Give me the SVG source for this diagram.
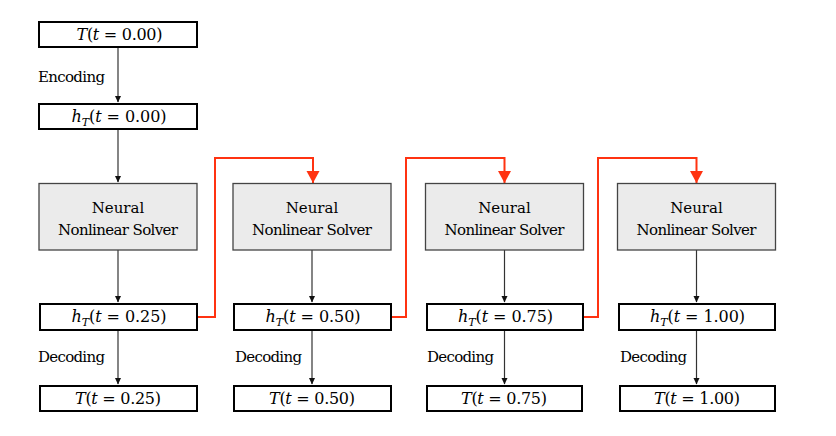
<svg xmlns="http://www.w3.org/2000/svg" width="836" height="436" viewBox="0 0 836 436">
<defs>
<marker id="ab" markerWidth="7" markerHeight="7" refX="6" refY="3.5" orient="auto" markerUnits="userSpaceOnUse">
<path d="M0,0.5 L6.5,3.5 L0,6.5 Z" fill="#111"/>
</marker>
<marker id="ar" markerWidth="14" markerHeight="14" refX="12" refY="6.5" orient="auto" markerUnits="userSpaceOnUse">
<path d="M0,0 L12,6.5 L0,13 Z" fill="#ff3311"/>
</marker>
<style>
.box{fill:#fff;stroke:#000;stroke-width:2}
.solver{fill:#ebebeb;stroke:#444;stroke-width:1.3}
text{font-family:"DejaVu Serif",serif;fill:#000}
.t{font-size:15px}
.m{font-size:16px}
.i{font-style:italic}
.sub{font-size:11px;font-style:italic}
.c{fill:none;stroke:#333;stroke-width:1.2}
.r{fill:none;stroke:#ff3311;stroke-width:2}
</style>
</defs>
<rect width="836" height="436" fill="#fff"/>

<g id="connectors">
<path class="c" d="M118,48 V102" marker-end="url(#ab)"/>
<path class="c" d="M118,130 V182" marker-end="url(#ab)"/>
<path class="c" d="M118,250 V302" marker-end="url(#ab)"/>
<path class="c" d="M118,331 V384" marker-end="url(#ab)"/>
<path class="c" d="M312,250 V302" marker-end="url(#ab)"/>
<path class="c" d="M312,331 V384" marker-end="url(#ab)"/>
<path class="c" d="M504.5,250 V302" marker-end="url(#ab)"/>
<path class="c" d="M504.5,331 V384" marker-end="url(#ab)"/>
<path class="c" d="M696.5,250 V302" marker-end="url(#ab)"/>
<path class="c" d="M696.5,331 V384" marker-end="url(#ab)"/>
<path class="r" d="M197,317 H215 V158 H313 V183" marker-end="url(#ar)"/>
<path class="r" d="M391,317 H406 V158 H504.5 V183" marker-end="url(#ar)"/>
<path class="r" d="M583,317 H598 V158 H696.5 V183" marker-end="url(#ar)"/>
<text class="t" x="38" y="82" textLength="67">Encoding</text>
<text class="t" x="38" y="362" textLength="67">Decoding</text>
<text class="t" x="235" y="362" textLength="67">Decoding</text>
<text class="t" x="427" y="362" textLength="67">Decoding</text>
<text class="t" x="620" y="362" textLength="67">Decoding</text>
</g>

<g id="T0">
<rect class="box" x="39" y="22" width="158" height="25"/>
<text class="m" x="119.5" y="40" text-anchor="middle" textLength="86" lengthAdjust="spacing"><tspan class="i">T</tspan>(<tspan class="i">t</tspan> = 0.00)</text>
</g>
<g id="h0">
<rect class="box" x="39" y="104" width="158" height="25"/>
<text class="m" x="119" y="122" text-anchor="middle" textLength="95" lengthAdjust="spacing"><tspan class="i">h</tspan><tspan class="sub" dy="4">T</tspan><tspan dy="-4">(</tspan><tspan class="i">t</tspan> = 0.00)</text>
</g>

<g id="solver1">
<rect class="solver" x="39" y="183.5" width="158" height="66.5"/>
<text class="t" x="118" y="213" text-anchor="middle">Neural</text>
<text class="t" x="118" y="235" text-anchor="middle" textLength="120">Nonlinear Solver</text>
</g>
<g id="solver2">
<rect class="solver" x="233" y="183.5" width="158" height="66.5"/>
<text class="t" x="312" y="213" text-anchor="middle">Neural</text>
<text class="t" x="312" y="235" text-anchor="middle" textLength="120">Nonlinear Solver</text>
</g>
<g id="solver3">
<rect class="solver" x="425.5" y="183.5" width="158" height="66.5"/>
<text class="t" x="504.5" y="213" text-anchor="middle">Neural</text>
<text class="t" x="504.5" y="235" text-anchor="middle" textLength="120">Nonlinear Solver</text>
</g>
<g id="solver4">
<rect class="solver" x="617.5" y="183.5" width="158" height="66.5"/>
<text class="t" x="696.5" y="213" text-anchor="middle">Neural</text>
<text class="t" x="696.5" y="235" text-anchor="middle" textLength="120">Nonlinear Solver</text>
</g>

<g id="h1">
<rect class="box" x="40" y="304" width="157" height="26"/>
<text class="m" x="119" y="322" text-anchor="middle" textLength="95" lengthAdjust="spacing"><tspan class="i">h</tspan><tspan class="sub" dy="4">T</tspan><tspan dy="-4">(</tspan><tspan class="i">t</tspan> = 0.25)</text>
</g>
<g id="h2">
<rect class="box" x="234" y="304" width="157" height="26"/>
<text class="m" x="313" y="322" text-anchor="middle" textLength="95" lengthAdjust="spacing"><tspan class="i">h</tspan><tspan class="sub" dy="4">T</tspan><tspan dy="-4">(</tspan><tspan class="i">t</tspan> = 0.50)</text>
</g>
<g id="h3">
<rect class="box" x="427" y="304" width="156" height="26"/>
<text class="m" x="505.5" y="322" text-anchor="middle" textLength="95" lengthAdjust="spacing"><tspan class="i">h</tspan><tspan class="sub" dy="4">T</tspan><tspan dy="-4">(</tspan><tspan class="i">t</tspan> = 0.75)</text>
</g>
<g id="h4">
<rect class="box" x="619" y="304" width="156" height="26"/>
<text class="m" x="697.5" y="322" text-anchor="middle" textLength="95" lengthAdjust="spacing"><tspan class="i">h</tspan><tspan class="sub" dy="4">T</tspan><tspan dy="-4">(</tspan><tspan class="i">t</tspan> = 1.00)</text>
</g>

<g id="T1">
<rect class="box" x="40" y="386" width="157" height="25"/>
<text class="m" x="118" y="404" text-anchor="middle" textLength="86" lengthAdjust="spacing"><tspan class="i">T</tspan>(<tspan class="i">t</tspan> = 0.25)</text>
</g>
<g id="T2">
<rect class="box" x="234" y="386" width="157" height="25"/>
<text class="m" x="312" y="404" text-anchor="middle" textLength="86" lengthAdjust="spacing"><tspan class="i">T</tspan>(<tspan class="i">t</tspan> = 0.50)</text>
</g>
<g id="T3">
<rect class="box" x="427" y="386" width="155" height="25"/>
<text class="m" x="504" y="404" text-anchor="middle" textLength="86" lengthAdjust="spacing"><tspan class="i">T</tspan>(<tspan class="i">t</tspan> = 0.75)</text>
</g>
<g id="T4">
<rect class="box" x="620" y="386" width="155" height="25"/>
<text class="m" x="697" y="404" text-anchor="middle" textLength="86" lengthAdjust="spacing"><tspan class="i">T</tspan>(<tspan class="i">t</tspan> = 1.00)</text>
</g>
</svg>
